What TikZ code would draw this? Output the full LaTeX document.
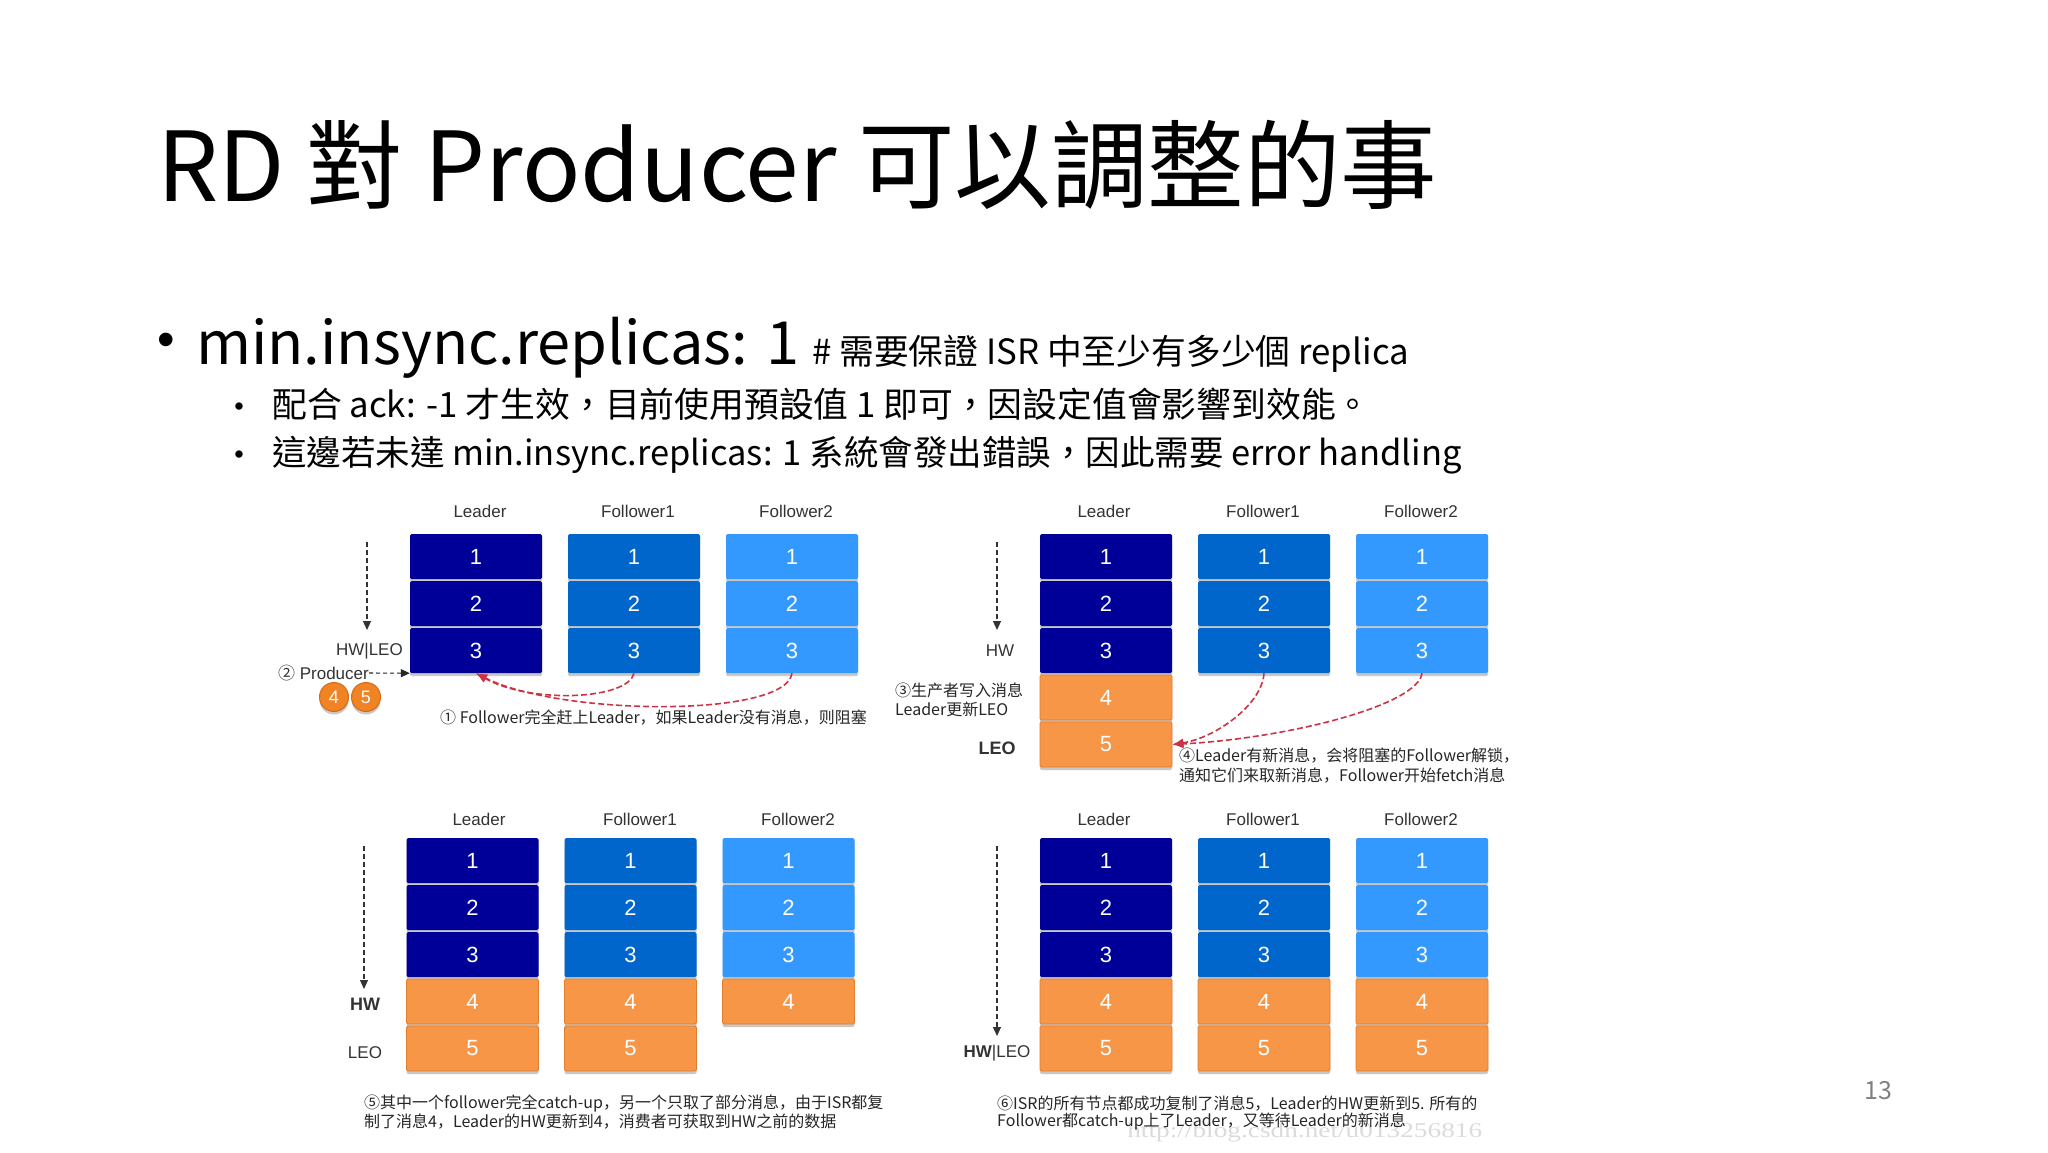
\documentclass[tikz,border=0pt]{standalone}
\usepackage{fontspec}
\setmainfont{Liberation Sans}
\newfontfamily\tcfont{Noto Sans CJK TC}
\newfontfamily\scfont{Noto Sans CJK SC}
\newfontfamily\wmfont{Liberation Serif}
\usetikzlibrary{shadows,arrows.meta}
\definecolor{cL}{HTML}{000099}
\definecolor{cA}{HTML}{0066CC}
\definecolor{cB}{HTML}{3399FF}
\definecolor{cO}{HTML}{F79646}
\definecolor{cOd}{HTML}{E07E30}
\definecolor{ballc}{HTML}{F08424}
\definecolor{balld}{HTML}{D86A12}
\definecolor{rd}{HTML}{CC3344}
\definecolor{lbl}{HTML}{333333}
\tikzset{
 cell/.style={minimum width=132pt, minimum height=45pt, inner sep=0pt, rounded corners=1.5pt, text=white,
   font=\fontsize{22}{22}\selectfont,
   drop shadow={shadow xshift=0pt, shadow yshift=-3pt, opacity=0.3, fill=black!70}},
 ocell/.style={cell, fill=cO, draw=cOd, line width=0.8pt},
 colhead/.style={text=lbl, font=\fontsize{17}{17}\selectfont, inner sep=0pt},
 side/.style={text=lbl, font=\fontsize{17}{17}\selectfont, inner sep=0pt},
 capline/.style={text=black!85, font=\scfont\fontsize{16}{16}\selectfont, inner sep=0pt, anchor=west},
 vdash/.style={draw=black!80, line width=1.1pt, dash pattern=on 5pt off 3pt, -{Triangle[length=9pt,width=8pt]}},
 pdash/.style={draw=black!85, line width=1.1pt, dash pattern=on 4pt off 3pt, -{Triangle[length=9pt,width=8pt]}},
 redcurve/.style={draw=rd, line width=1.6pt, dash pattern=on 6pt off 3pt, -{Latex[length=11pt,width=9pt]}},
 ball/.style={circle, fill=ballc, draw=balld, line width=1pt, minimum size=29pt, inner sep=0pt, text=white,
   font=\fontsize{18}{18}\selectfont,
   drop shadow={shadow xshift=0pt, shadow yshift=-3pt, opacity=0.3, fill=black!70}},
 slide/.style={anchor=base west, inner sep=0pt},
}
\begin{document}
\begin{tikzpicture}[x=1pt,y=-1pt]
\useasboundingbox (0,0) rectangle (2048,1152);
\fill[white] (0,0) rectangle (2048,1152);

% ---------- slide text ----------
\node[slide, font=\tcfont\fontsize{96.5}{96.5}\selectfont] (title) at (157,201) {RD 對 Producer 可以調整的事};
\node[inner sep=0pt, font=\fontsize{50}{50}\selectfont] (bul1) at (166,345) {•};
\node[slide, font=\tcfont\fontsize{59.5}{59.5}\selectfont] (t1) at (196,364) {min.insync.replicas: 1};
\node[slide, font=\tcfont\fontsize{34.8}{34.8}\selectfont] (t1c) at (812,364) {\# 需要保證 ISR 中至少有多少個 replica};
\node[inner sep=0pt, font=\fontsize{27}{27}\selectfont] (bul2) at (239,409) {•};
\node[slide, font=\tcfont\fontsize{34.8}{34.8}\selectfont] (t2) at (272,417) {配合 ack: -1 才生效，目前使用預設值 1 即可，因設定值會影響到效能。};
\node[inner sep=0pt, font=\fontsize{27}{27}\selectfont] (bul3) at (239,457) {•};
\node[slide, font=\tcfont\fontsize{34.5}{34.5}\selectfont] (t3) at (272,465) {這邊若未達 min.insync.replicas: 1 系統會發出錯誤，因此需要 error handling};
\node[inner sep=0pt, font=\tcfont\fontsize{25}{25}\selectfont, text=black!50] (pg) at (1878,1091) {13};

% watermark
\node[anchor=base west, inner sep=0pt, xscale=1.3, font=\wmfont\fontsize{21}{21}\selectfont, text=black!14] (wm) at (1127,1137) {http://blog.csdn.net/u013256816};

% ---------- Q1 ----------
\node[colhead] (q1hL) at (480,511) {Leader};
\node[colhead] (q1hA) at (638,511) {Follower1};
\node[colhead] (q1hB) at (796,511) {Follower2};
\foreach \c/\x/\col in {L/476/cL,A/634/cA,B/792/cB}{
  \foreach \i in {1,2,3}{\node[cell,fill=\col] (q1\c\i) at (\x,{509.5+47*\i}) {\i};}
}
\coordinate (q1s) at (367,542);
\coordinate (q1e) at (367,630);
\draw[vdash] (q1s) -- (q1e);
\node[side, anchor=east] (q1hw) at (403,651) {HW|LEO};
\node[side, anchor=east] (prod) at (369,673) {{\scfont ②} Producer};
\draw[pdash] (prod.east) -- (q1L3.south west);
\node[ball] (b4) at (334,697) {4};
\node[ball] (b5) at (366,697) {5};
\draw[redcurve] (q1A3.south) .. controls (628,700) and (530,704) .. (q1L3.south);
\draw[redcurve] (q1B3.south) .. controls (786,718) and (560,716) .. (q1L3.south);
\node[capline] (q1cap) at (440,718) {① Follower完全赶上Leader，如果Leader没有消息，则阻塞};

% ---------- Q2 ----------
\node[colhead] (q2hL) at (1104,511) {Leader};
\node[colhead] (q2hA) at (1263,511) {Follower1};
\node[colhead] (q2hB) at (1421,511) {Follower2};
\foreach \c/\x/\col in {L/1106/cL,A/1264/cA,B/1422/cB}{
  \foreach \i in {1,2,3}{\node[cell,fill=\col] (q2\c\i) at (\x,{509.5+47*\i}) {\i};}
}
\foreach \i in {4,5}{\node[ocell] (q2L\i) at (1106,{509.5+47*\i}) {\i};}
\coordinate (q2s) at (997,542);
\coordinate (q2e) at (997,630);
\draw[vdash] (q2s) -- (q2e);
\node[side] (q2hw) at (1000,651) {HW};
\node[capline] (q2p1) at (895,690) {③生产者写入消息};
\node[capline] (q2p2) at (895,709) {Leader更新LEO};
\node[side, font=\bfseries\fontsize{18}{18}\selectfont] (q2leo) at (997,748) {LEO};
\draw[redcurve] (q2A3.south) .. controls (1262,705) and (1215,738) .. (q2L5.east);
\draw[redcurve] (q2B3.south) .. controls (1418,705) and (1290,738) .. (q2L5.east);
\node[capline] (q2c1) at (1179,756) {④Leader有新消息，会将阻塞的Follower解锁，};
\node[capline] (q2c2) at (1179,776) {通知它们来取新消息，Follower开始fetch消息};

% ---------- Q3 ----------
\node[colhead] (q3hL) at (479,819) {Leader};
\node[colhead] (q3hA) at (640,819) {Follower1};
\node[colhead] (q3hB) at (798,819) {Follower2};
\foreach \c/\x/\col in {L/472.5/cL,A/630.5/cA,B/788.5/cB}{
  \foreach \i in {1,2,3}{\node[cell,fill=\col] (q3\c\i) at (\x,{813.5+47*\i}) {\i};}
}
\foreach \c/\x in {L/472.5,A/630.5}{
  \foreach \i in {4,5}{\node[ocell] (q3\c\i) at (\x,{813.5+47*\i}) {\i};}
}
\node[ocell] (q3B4) at (788.5,{813.5+47*4}) {4};
\coordinate (q3s) at (364,846);
\coordinate (q3e) at (364,989);
\draw[vdash] (q3s) -- (q3e);
\node[side, font=\bfseries\fontsize{18}{18}\selectfont] (q3hw) at (365,1004) {HW};
\node[side] (q3leo) at (365,1053) {LEO};
\node[capline] (q3c1) at (364,1104) {⑤其中一个follower完全catch-up，另一个只取了部分消息，由于ISR都复};
\node[capline] (q3c2) at (364,1122) {制了消息4，Leader的HW更新到4，消费者可获取到HW之前的数据};

% ---------- Q4 ----------
\node[colhead] (q4hL) at (1104,819) {Leader};
\node[colhead] (q4hA) at (1263,819) {Follower1};
\node[colhead] (q4hB) at (1421,819) {Follower2};
\foreach \c/\x/\col in {L/1106/cL,A/1264/cA,B/1422/cB}{
  \foreach \i in {1,2,3}{\node[cell,fill=\col] (q4\c\i) at (\x,{813.5+47*\i}) {\i};}
  \foreach \i in {4,5}{\node[ocell] (q4\c\i) at (\x,{813.5+47*\i}) {\i};}
}
\coordinate (q4s) at (997,846);
\coordinate (q4e) at (997,1036);
\draw[vdash] (q4s) -- (q4e);
\node[side] (q4hw) at (997,1053) {\textbf{HW}|LEO};
\node[capline] (q4c1) at (997,1104) {⑥ISR的所有节点都成功复制了消息5，Leader的HW更新到5. 所有的};
\node[capline] (q4c2) at (997,1122) {Follower都catch-up上了Leader，又等待Leader的新消息};
\end{tikzpicture}
\end{document}
